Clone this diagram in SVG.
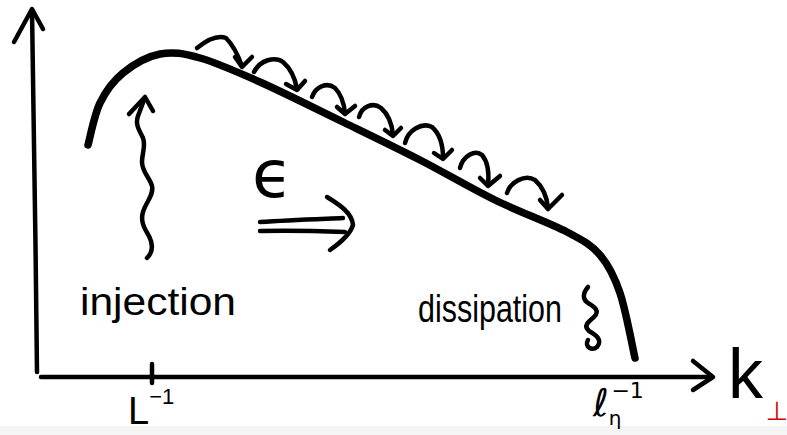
<svg xmlns="http://www.w3.org/2000/svg" width="787" height="435" viewBox="0 0 787 435">
<style>
.ax{fill:none;stroke:#000;stroke-width:4.5;stroke-linecap:round;stroke-linejoin:round}
.cv{fill:none;stroke:#000;stroke-width:7.5;stroke-linecap:round;stroke-linejoin:round}
.hp{fill:none;stroke:#000;stroke-width:4.5;stroke-linecap:round;stroke-linejoin:round}
.lb{font-family:"Liberation Sans","DejaVu Sans",sans-serif;fill:#000}
.sym{font-family:"DejaVu Sans","Liberation Sans",sans-serif;fill:#000}
</style>
<rect x="0" y="0" width="787" height="435" fill="#fff"/>
<rect x="0" y="426" width="787" height="9" fill="#f5f5f5"/>
<g id="axes">
  <path class="ax" d="M32,10 C33,100 36,250 37,372"/>
  <path class="ax" d="M14,42 L32,9 L43,29"/>
  <path class="ax" d="M41,377 C200,375 500,378 712,377"/>
  <path class="ax" d="M693,361 L713,377 L693,390"/>
  <path class="ax" d="M152,364 L152,383"/>
</g>
<g id="spectrum">
  <path class="cv" d="M88,145 C90,138 94.2,115 100,103 C105.8,91 113,81.2 123,73 C133,64.8 147.2,56.5 160,54 C172.8,51.5 183.3,53.3 200,58 C216.7,62.7 235.8,71.2 260,82 C284.2,92.8 318.3,110 345,123 C371.7,136 395,147.2 420,160 C445,172.8 470.5,188 495,200 C519.5,212 549.5,222.8 567,232 C584.5,241.2 591.2,244.8 600,255 C608.8,265.2 614.2,275.8 620,293 C625.8,310.2 632.5,347.2 635,358"/>
</g>
<g id="connectors">
  <g id="cascade">
    <path class="hp" d="M197,48 C207,40 218,35 226,38 C232,44 238,55 242,66"/>
    <path class="hp" d="M235,57 L242,67 L252,57"/>
    <path class="hp" d="M254,72 C260,60 275,56 283,62 C290,68 295,78 297,89"/>
    <path class="hp" d="M286,84 L297,90 L305,81"/>
    <path class="hp" d="M312,97 C316,86 327,82 335,88 C341,94 344,104 345,113"/>
    <path class="hp" d="M337,107 L345,114 L355,106"/>
    <path class="hp" d="M359,117 C362,106 373,102 381,108 C388,114 392,124 393,135"/>
    <path class="hp" d="M385,130 L393,136 L401,128"/>
    <path class="hp" d="M405,143 C408,130 422,122 432,127 C440,134 443,147 443,158"/>
    <path class="hp" d="M434,153 L443,159 L452,150"/>
    <path class="hp" d="M460,168 C463,156 475,149 482,155 C488,162 489,175 488,185"/>
    <path class="hp" d="M480,178 L488,186 L500,176"/>
    <path class="hp" d="M507,193 C510,182 525,174 535,180 C543,187 547,198 548,208"/>
    <path class="hp" d="M540,200 L548,209 L562,195"/>
  </g>
  <g id="injection-arrow">
    <path class="hp" d="M147,258 C153,252 153,244 149,236 C145,229 140,222 143,212 C146,202 154,195 152,186 C150,178 142,172 142,162 C142,153 146,146 143,138 C139,130 135,124 138,116 L144,100"/>
    <path class="hp" d="M129,114 L145,97 L153,111"/>
  </g>
  <g id="flux-arrow">
    <path class="hp" d="M260,222 C290,220 320,219 343,218"/>
    <path class="hp" d="M260,231 C290,230 320,231 345,232"/>
    <path class="hp" d="M327,197 C340,205 352,213 353,225 C350,235 340,243 330,250"/>
  </g>
  <g id="dissipation-arrow">
    <path class="hp" d="M588,287 C583,293 582,299 588,303 C595,307 600,311 594,317 C588,322 583,326 589,331 C596,335 603,340 597,347 C592,351 584,347 588,340"/>
  </g>
</g>
<g id="labels">
  <text class="lb" x="80" y="315" font-size="38" textLength="156" lengthAdjust="spacingAndGlyphs">injection</text>
  <text class="lb" x="418" y="322" font-size="38" textLength="144" lengthAdjust="spacingAndGlyphs">dissipation</text>
  <text class="sym" x="252" y="197" font-size="66">ϵ</text>
  <text class="lb" x="128" y="424" font-size="38">L<tspan font-size="22" dy="-20">−1</tspan></text>
  <text class="sym" x="593" y="416" font-size="38">ℓ<tspan font-size="20" dy="9">η</tspan><tspan font-size="22" dx="-10" dy="-27">−1</tspan></text>
  <text class="lb" x="728" y="398" font-size="70">k</text>
  <text class="sym" x="777" y="420" font-size="26" style="fill:#d40000" text-anchor="middle">⊥</text>
</g>
</svg>
